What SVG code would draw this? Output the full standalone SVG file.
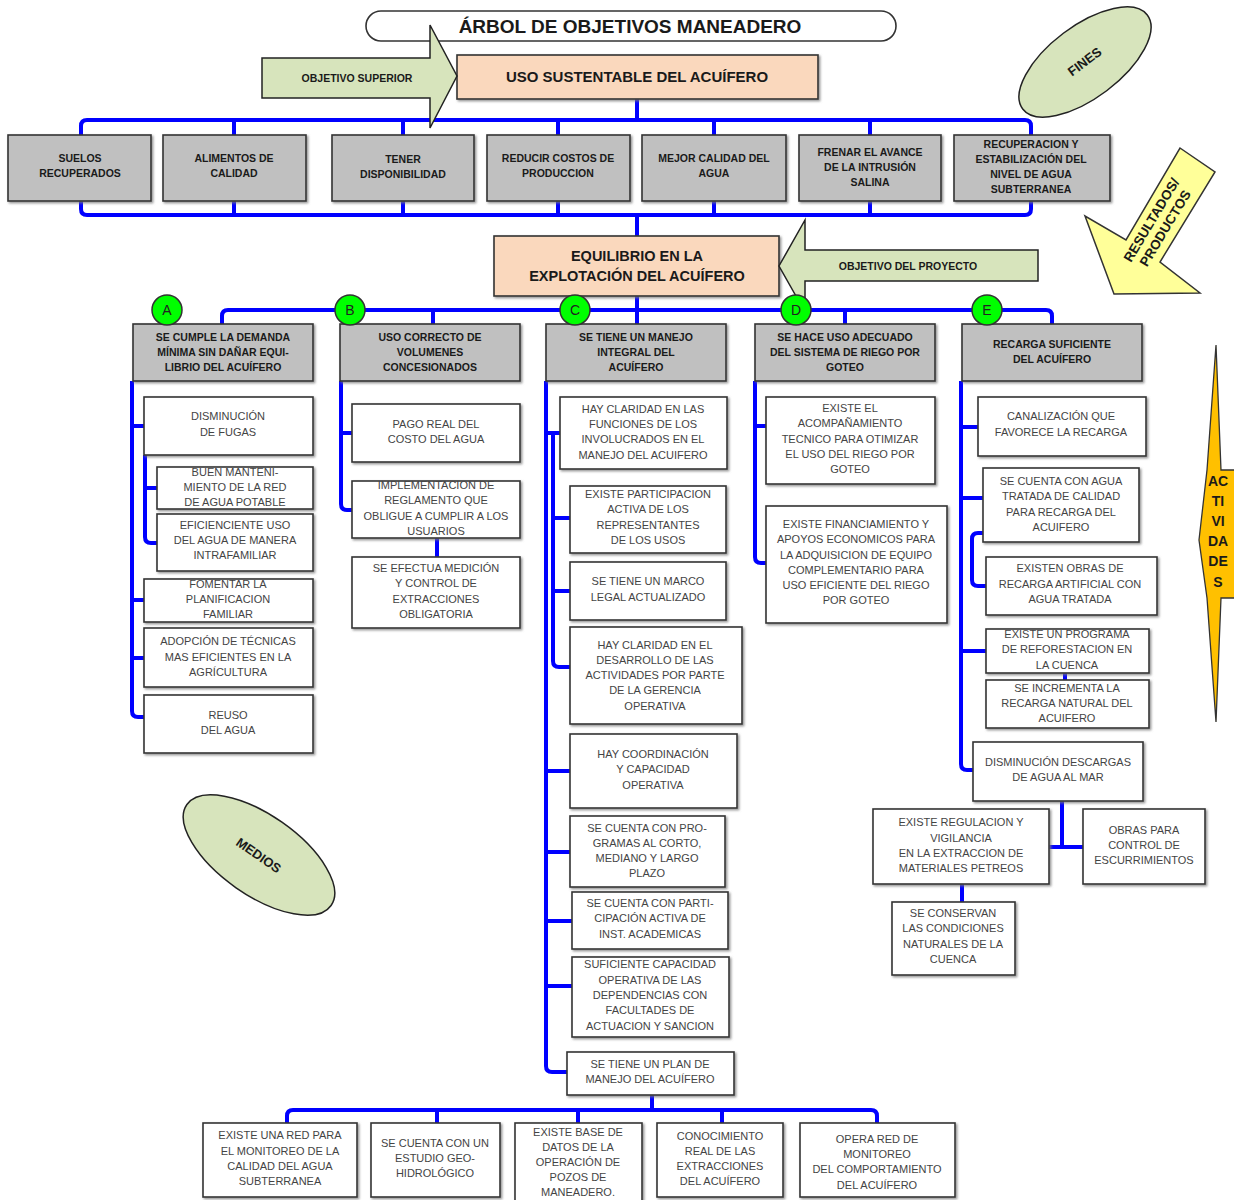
<svg xmlns="http://www.w3.org/2000/svg" width="1234" height="1200" viewBox="0 0 1234 1200">
<defs>
<filter id="sh" x="-5%" y="-5%" width="115%" height="120%"><feDropShadow dx="1.5" dy="1.5" stdDeviation="0.8" flood-color="#777" flood-opacity="0.8"/></filter>
<style>
.gb{fill:#c0c0c0;stroke:#333;stroke-width:1.6;filter:url(#sh)}
.wb{fill:#fff;stroke:#333;stroke-width:1.6;filter:url(#sh)}
.pb{fill:#fad8bd;stroke:#333;stroke-width:1.6;filter:url(#sh)}
.gt{font-family:"Liberation Sans",Arial,sans-serif;font-size:10.5px;font-weight:bold;fill:#1a1a1a;text-anchor:middle}
.wt{font-family:"Liberation Sans",Arial,sans-serif;font-size:11px;fill:#444;text-anchor:middle}
.bt{font-family:"Liberation Sans",Arial,sans-serif;font-weight:bold;fill:#1a1a1a;text-anchor:middle}
.cn{fill:none;stroke:#0000ff;stroke-width:4;stroke-linejoin:round}
.cir{fill:#00ff00;stroke:#333;stroke-width:1.5}
.ct{font-family:"Liberation Sans",Arial,sans-serif;font-size:14px;fill:#222;text-anchor:middle}
.grn{fill:#d7e4bc;stroke:#222;stroke-width:1.5}
</style>
</defs>
<rect width="1234" height="1200" fill="#fff"/>

<!-- connectors -->
<g id="connectors">
<path class="cn" d="M637,99 V120"/>
<path class="cn" d="M81,135 V126 Q81,120 87,120 H1025 Q1031,120 1031,126 V135"/>
<path class="cn" d="M234,120V135 M403,120V135 M558,120V135 M714,120V135 M870,120V135"/>
<path class="cn" d="M81,201 V209 Q81,215 87,215 H1025 Q1031,215 1031,209 V201"/>
<path class="cn" d="M234,201V215 M403,201V215 M558,201V215 M714,201V215 M870,201V215"/>
<path class="cn" d="M637,215 V236"/>
<path class="cn" d="M637,296 V324"/>
<path class="cn" d="M222,324 V316 Q222,310 228,310 H1046 Q1052,310 1052,316 V324"/>
<path class="cn" d="M433,310V324 M845,310V324"/>
<!-- A -->
<path class="cn" d="M132,381 V711 Q132,717 138,717 H144"/>
<path class="cn" d="M132,426H144 M132,600H144 M132,658H144"/>
<path class="cn" d="M145,455 V537 Q145,543 151,543 H157 M145,488 H157"/>
<!-- B -->
<path class="cn" d="M341,381 V504 Q341,510 347,510 H352 M341,433 H352"/>
<path class="cn" d="M437,538 V557"/>
<!-- C -->
<path class="cn" d="M546,381 V1066 Q546,1072 552,1072 H567"/>
<path class="cn" d="M546,433H560 M546,771H570 M546,852H570 M546,921H572 M546,986H572"/>
<path class="cn" d="M553,433 V661 Q553,667 559,667 H570 M553,518H570 M553,591H570"/>
<path class="cn" d="M652,1095 V1110"/>
<path class="cn" d="M287,1123 V1116 Q287,1110 293,1110 H871 Q877,1110 877,1116 V1123"/>
<path class="cn" d="M437,1110V1123 M578,1110V1123 M722,1110V1123"/>
<!-- D -->
<path class="cn" d="M755,381 V557 Q755,563 761,563 H766 M755,426 H766"/>
<!-- E -->
<path class="cn" d="M961,381 V764 Q961,770 967,770 H973"/>
<path class="cn" d="M961,427H978 M961,498H983 M961,651H986"/>
<path class="cn" d="M983,533 H978 Q972,533 972,539 V580 Q972,586 978,586 H986"/>
<path class="cn" d="M1065,673 V680"/>
<path class="cn" d="M1062,801 V847 M1049,847 H1083"/>
<path class="cn" d="M962,884 V902"/>
</g>

<!-- title -->
<g id="title">
<rect x="366" y="11" width="530" height="30" rx="15" fill="#fff" stroke="#333" stroke-width="1.6"/>
<text class="bt" x="630" y="33" font-size="19">ÁRBOL DE OBJETIVOS MANEADERO</text>
</g>

<!-- decorative labels -->
<g id="fines">
<ellipse class="grn" cx="1085" cy="62" rx="78" ry="36" transform="rotate(-37 1085 62)"/>
<text class="bt" x="1085" y="66" font-size="13" transform="rotate(-37 1085 62)">FINES</text>
</g>
<g id="medios">
<ellipse class="grn" cx="259" cy="855" rx="88" ry="40" transform="rotate(35 259 855)"/>
<text class="bt" x="259" y="860" font-size="13" transform="rotate(35 259 855)">MEDIOS</text>
</g>
<g id="resultados">
<polygon points="1180,148 1215,172 1160,262 1200,293 1114,294 1085,216 1126,240" fill="#ffff99" stroke="#333" stroke-width="1.5"/>
<text class="bt" font-size="13.5" transform="translate(1158,224) rotate(-59)"><tspan x="0" y="-3">RESULTADOS/</tspan><tspan x="0" y="13">PRODUCTOS</tspan></text>
</g>
<g id="actividades">
<polygon points="1216,345 1207,470 1199,540 1207,598 1216,722 1221,598 1236,598 1236,470 1221,470" fill="#ffc000" stroke="#333" stroke-width="1.3"/>
<text class="bt" font-size="14"><tspan x="1218" y="486">AC</tspan><tspan x="1218" y="506">TI</tspan><tspan x="1218" y="526">VI</tspan><tspan x="1218" y="546">DA</tspan><tspan x="1218" y="566">DE</tspan><tspan x="1218" y="587">S</tspan></text>
</g>

<!-- top objective -->
<g id="uso">
<rect class="pb" x="457" y="55" width="361" height="44"/>
<text class="bt" x="637" y="82" font-size="15">USO SUSTENTABLE  DEL ACUÍFERO</text>
</g>
<g id="obj-superior">
<polygon class="grn" points="262,58 430,58 430,25 457,76 430,128 430,98 262,98"/>
<text class="bt" x="357" y="82" font-size="10.5">OBJETIVO SUPERIOR</text>
</g>

<!-- fines boxes -->
<g id="f1"><rect class="gb" x="8" y="135" width="143" height="66"/><text class="gt"><tspan x="80" y="162">SUELOS</tspan><tspan x="80" y="177">RECUPERADOS</tspan></text></g>
<g id="f2"><rect class="gb" x="163" y="135" width="143" height="66"/><text class="gt"><tspan x="234" y="162">ALIMENTOS DE</tspan><tspan x="234" y="177">CALIDAD</tspan></text></g>
<g id="f3"><rect class="gb" x="332" y="135" width="142" height="66"/><text class="gt"><tspan x="403" y="163">TENER</tspan><tspan x="403" y="178">DISPONIBILIDAD</tspan></text></g>
<g id="f4"><rect class="gb" x="487" y="135" width="143" height="66"/><text class="gt"><tspan x="558" y="162">REDUCIR COSTOS DE</tspan><tspan x="558" y="177">PRODUCCION</tspan></text></g>
<g id="f5"><rect class="gb" x="642" y="135" width="144" height="66"/><text class="gt"><tspan x="714" y="162">MEJOR CALIDAD DEL</tspan><tspan x="714" y="177">AGUA</tspan></text></g>
<g id="f6"><rect class="gb" x="799" y="135" width="142" height="66"/><text class="gt"><tspan x="870" y="156">FRENAR EL AVANCE</tspan><tspan x="870" y="171">DE LA INTRUSIÓN</tspan><tspan x="870" y="186">SALINA</tspan></text></g>
<g id="f7"><rect class="gb" x="954" y="135" width="156" height="66"/><text class="gt"><tspan x="1031" y="148">RECUPERACION  Y</tspan><tspan x="1031" y="163">ESTABILIZACIÓN DEL</tspan><tspan x="1031" y="178">NIVEL DE AGUA</tspan><tspan x="1031" y="193">SUBTERRANEA</tspan></text></g>

<!-- project objective -->
<g id="equilibrio">
<rect class="pb" x="494" y="236" width="285" height="60"/>
<text class="bt" font-size="14.5"><tspan x="637" y="261">EQUILIBRIO EN LA</tspan><tspan x="637" y="281">EXPLOTACIÓN DEL ACUÍFERO</tspan></text>
</g>

<!-- component boxes -->
<g id="ca"><rect class="gb" x="133" y="324" width="180" height="57"/><text class="gt"><tspan x="223" y="341">SE CUMPLE LA DEMANDA</tspan><tspan x="223" y="356">MÍNIMA SIN DAÑAR EQUI-</tspan><tspan x="223" y="371">LIBRIO DEL ACUÍFERO</tspan></text></g>
<g id="cb"><rect class="gb" x="340" y="324" width="180" height="57"/><text class="gt"><tspan x="430" y="341">USO CORRECTO DE</tspan><tspan x="430" y="356">VOLUMENES</tspan><tspan x="430" y="371">CONCESIONADOS</tspan></text></g>
<g id="cc"><rect class="gb" x="546" y="324" width="180" height="57"/><text class="gt"><tspan x="636" y="341">SE TIENE UN MANEJO</tspan><tspan x="636" y="356">INTEGRAL DEL</tspan><tspan x="636" y="371">ACUÍFERO</tspan></text></g>
<g id="cd"><rect class="gb" x="755" y="324" width="180" height="57"/><text class="gt"><tspan x="845" y="341">SE HACE USO ADECUADO</tspan><tspan x="845" y="356">DEL SISTEMA DE RIEGO POR</tspan><tspan x="845" y="371">GOTEO</tspan></text></g>
<g id="ce"><rect class="gb" x="962" y="324" width="180" height="57"/><text class="gt"><tspan x="1052" y="348">RECARGA SUFICIENTE</tspan><tspan x="1052" y="363">DEL ACUÍFERO</tspan></text></g>

<g id="obj-proyecto">
<polygon class="grn" points="1038,250 805,250 805,220 779,266 805,312 805,281 1038,281"/>
<text class="bt" x="908" y="270" font-size="10.5">OBJETIVO DEL PROYECTO</text>
</g>

<g id="circles">
<circle class="cir" cx="167" cy="310" r="15"/><text class="ct" x="167" y="315">A</text>
<circle class="cir" cx="350" cy="310" r="15"/><text class="ct" x="350" y="315">B</text>
<circle class="cir" cx="575" cy="310" r="15"/><text class="ct" x="575" y="315">C</text>
<circle class="cir" cx="796" cy="310" r="15"/><text class="ct" x="796" y="315">D</text>
<circle class="cir" cx="987" cy="310" r="15"/><text class="ct" x="987" y="315">E</text>
</g>

<!-- column A -->
<g id="a1"><rect class="wb" x="144" y="397" width="169" height="58"/><text class="wt"><tspan x="228" y="420">DISMINUCIÓN</tspan><tspan x="228" y="436">DE  FUGAS</tspan></text></g>
<g id="a2"><rect class="wb" x="157" y="467" width="156" height="42"/><text class="wt"><tspan x="235" y="476">BUEN MANTENI-</tspan><tspan x="235" y="491">MIENTO DE LA RED</tspan><tspan x="235" y="506">DE AGUA POTABLE</tspan></text></g>
<g id="a3"><rect class="wb" x="157" y="514" width="156" height="57"/><text class="wt"><tspan x="235" y="529">EFICIENCIENTE USO</tspan><tspan x="235" y="544">DEL AGUA DE MANERA</tspan><tspan x="235" y="559">INTRAFAMILIAR</tspan></text></g>
<g id="a4"><rect class="wb" x="144" y="579" width="169" height="43"/><text class="wt"><tspan x="228" y="588">FOMENTAR LA</tspan><tspan x="228" y="603">PLANIFICACION</tspan><tspan x="228" y="618">FAMILIAR</tspan></text></g>
<g id="a5"><rect class="wb" x="144" y="628" width="169" height="59"/><text class="wt"><tspan x="228" y="645">ADOPCIÓN DE TÉCNICAS</tspan><tspan x="228" y="661">MAS EFICIENTES EN LA</tspan><tspan x="228" y="676">AGRÍCULTURA</tspan></text></g>
<g id="a6"><rect class="wb" x="144" y="695" width="169" height="58"/><text class="wt"><tspan x="228" y="719">REUSO</tspan><tspan x="228" y="734">DEL AGUA</tspan></text></g>

<!-- column B -->
<g id="b1"><rect class="wb" x="352" y="404" width="168" height="58"/><text class="wt"><tspan x="436" y="428">PAGO REAL  DEL</tspan><tspan x="436" y="443">COSTO DEL AGUA</tspan></text></g>
<g id="b2"><rect class="wb" x="352" y="481" width="168" height="57"/><text class="wt"><tspan x="436" y="489">IMPLEMENTACION DE</tspan><tspan x="436" y="504">REGLAMENTO QUE</tspan><tspan x="436" y="520">OBLIGUE A CUMPLIR A LOS</tspan><tspan x="436" y="535">USUARIOS</tspan></text></g>
<g id="b3"><rect class="wb" x="352" y="557" width="168" height="71"/><text class="wt"><tspan x="436" y="572">SE EFECTUA MEDICIÓN</tspan><tspan x="436" y="587">Y CONTROL DE</tspan><tspan x="436" y="603">EXTRACCIONES</tspan><tspan x="436" y="618">OBLIGATORIA</tspan></text></g>

<!-- column C -->
<g id="c1"><rect class="wb" x="560" y="397" width="167" height="72"/><text class="wt"><tspan x="643" y="413">HAY CLARIDAD EN LAS</tspan><tspan x="643" y="428">FUNCIONES DE LOS</tspan><tspan x="643" y="443">INVOLUCRADOS EN EL</tspan><tspan x="643" y="459">MANEJO DEL ACUIFERO</tspan></text></g>
<g id="c2"><rect class="wb" x="570" y="486" width="156" height="67"/><text class="wt"><tspan x="648" y="498">EXISTE PARTICIPACION</tspan><tspan x="648" y="513">ACTIVA DE LOS</tspan><tspan x="648" y="529">REPRESENTANTES</tspan><tspan x="648" y="544">DE LOS USOS</tspan></text></g>
<g id="c3"><rect class="wb" x="570" y="562" width="156" height="58"/><text class="wt"><tspan x="648" y="585">SE TIENE UN MARCO</tspan><tspan x="648" y="601">LEGAL ACTUALIZADO</tspan></text></g>
<g id="c4"><rect class="wb" x="570" y="627" width="172" height="97"/><text class="wt"><tspan x="655" y="649">HAY CLARIDAD EN EL</tspan><tspan x="655" y="664">DESARROLLO DE LAS</tspan><tspan x="655" y="679">ACTIVIDADES POR PARTE</tspan><tspan x="655" y="694">DE LA GERENCIA</tspan><tspan x="655" y="710">OPERATIVA</tspan></text></g>
<g id="c5"><rect class="wb" x="570" y="734" width="167" height="74"/><text class="wt"><tspan x="653" y="758">HAY COORDINACIÓN</tspan><tspan x="653" y="773">Y CAPACIDAD</tspan><tspan x="653" y="789">OPERATIVA</tspan></text></g>
<g id="c6"><rect class="wb" x="570" y="816" width="155" height="71"/><text class="wt"><tspan x="647" y="832">SE CUENTA CON PRO-</tspan><tspan x="647" y="847">GRAMAS AL CORTO,</tspan><tspan x="647" y="862">MEDIANO Y LARGO</tspan><tspan x="647" y="877">PLAZO</tspan></text></g>
<g id="c7"><rect class="wb" x="572" y="892" width="156" height="57"/><text class="wt"><tspan x="650" y="907">SE CUENTA CON PARTI-</tspan><tspan x="650" y="922">CIPACIÓN ACTIVA DE</tspan><tspan x="650" y="938">INST. ACADEMICAS</tspan></text></g>
<g id="c8"><rect class="wb" x="572" y="957" width="157" height="80"/><text class="wt"><tspan x="650" y="968">SUFICIENTE CAPACIDAD</tspan><tspan x="650" y="984">OPERATIVA DE LAS</tspan><tspan x="650" y="999">DEPENDENCIAS CON</tspan><tspan x="650" y="1014">FACULTADES DE</tspan><tspan x="650" y="1030">ACTUACION Y SANCION</tspan></text></g>
<g id="c9"><rect class="wb" x="567" y="1052" width="167" height="43"/><text class="wt"><tspan x="650" y="1068">SE TIENE UN PLAN DE</tspan><tspan x="650" y="1083">MANEJO DEL ACUÍFERO</tspan></text></g>

<!-- bottom row -->
<g id="p1"><rect class="wb" x="203" y="1123" width="154" height="74"/><text class="wt"><tspan x="280" y="1139">EXISTE UNA RED PARA</tspan><tspan x="280" y="1155">EL MONITOREO DE LA</tspan><tspan x="280" y="1170">CALIDAD DEL AGUA</tspan><tspan x="280" y="1185">SUBTERRANEA</tspan></text></g>
<g id="p2"><rect class="wb" x="371" y="1123" width="129" height="74"/><text class="wt"><tspan x="435" y="1147">SE CUENTA CON UN</tspan><tspan x="435" y="1162">ESTUDIO GEO-</tspan><tspan x="435" y="1177">HIDROLÓGICO</tspan></text></g>
<g id="p3"><rect class="wb" x="515" y="1123" width="127" height="82"/><text class="wt"><tspan x="578" y="1136">EXISTE BASE DE</tspan><tspan x="578" y="1151">DATOS DE LA</tspan><tspan x="578" y="1166">OPERACIÓN DE</tspan><tspan x="578" y="1181">POZOS DE</tspan><tspan x="578" y="1196">MANEADERO.</tspan></text></g>
<g id="p4"><rect class="wb" x="657" y="1123" width="126" height="74"/><text class="wt"><tspan x="720" y="1140">CONOCIMIENTO</tspan><tspan x="720" y="1155">REAL DE LAS</tspan><tspan x="720" y="1170">EXTRACCIONES</tspan><tspan x="720" y="1185">DEL ACUÍFERO</tspan></text></g>
<g id="p5"><rect class="wb" x="800" y="1123" width="155" height="74"/><text class="wt"><tspan x="877" y="1143">OPERA RED DE</tspan><tspan x="877" y="1158">MONITOREO</tspan><tspan x="877" y="1173">DEL COMPORTAMIENTO</tspan><tspan x="877" y="1189">DEL ACUÍFERO</tspan></text></g>

<!-- column D -->
<g id="d1"><rect class="wb" x="766" y="397" width="169" height="87"/><text class="wt"><tspan x="850" y="412">EXISTE EL</tspan><tspan x="850" y="427">ACOMPAÑAMIENTO</tspan><tspan x="850" y="443">TECNICO PARA OTIMIZAR</tspan><tspan x="850" y="458">EL USO DEL RIEGO POR</tspan><tspan x="850" y="473">GOTEO</tspan></text></g>
<g id="d2"><rect class="wb" x="766" y="506" width="181" height="117"/><text class="wt"><tspan x="856" y="528">EXISTE FINANCIAMIENTO Y</tspan><tspan x="856" y="543">APOYOS ECONOMICOS PARA</tspan><tspan x="856" y="559">LA ADQUISICION DE EQUIPO</tspan><tspan x="856" y="574">COMPLEMENTARIO PARA</tspan><tspan x="856" y="589">USO EFICIENTE DEL RIEGO</tspan><tspan x="856" y="604">POR GOTEO</tspan></text></g>

<!-- column E -->
<g id="e1"><rect class="wb" x="978" y="397" width="168" height="59"/><text class="wt"><tspan x="1061" y="420">CANALIZACIÓN QUE</tspan><tspan x="1061" y="436">FAVORECE LA RECARGA</tspan></text></g>
<g id="e2"><rect class="wb" x="983" y="468" width="156" height="74"/><text class="wt"><tspan x="1061" y="485">SE CUENTA CON AGUA</tspan><tspan x="1061" y="500">TRATADA DE CALIDAD</tspan><tspan x="1061" y="516">PARA RECARGA DEL</tspan><tspan x="1061" y="531">ACUIFERO</tspan></text></g>
<g id="e3"><rect class="wb" x="986" y="557" width="171" height="58"/><text class="wt"><tspan x="1070" y="572">EXISTEN OBRAS DE</tspan><tspan x="1070" y="588">RECARGA ARTIFICIAL CON</tspan><tspan x="1070" y="603">AGUA TRATADA</tspan></text></g>
<g id="e4"><rect class="wb" x="986" y="629" width="163" height="44"/><text class="wt"><tspan x="1067" y="638">EXISTE UN PROGRAMA</tspan><tspan x="1067" y="653">DE REFORESTACION EN</tspan><tspan x="1067" y="669">LA CUENCA</tspan></text></g>
<g id="e5"><rect class="wb" x="986" y="680" width="163" height="48"/><text class="wt"><tspan x="1067" y="692">SE INCREMENTA LA</tspan><tspan x="1067" y="707">RECARGA NATURAL DEL</tspan><tspan x="1067" y="722">ACUIFERO</tspan></text></g>
<g id="e6"><rect class="wb" x="973" y="742" width="170" height="59"/><text class="wt"><tspan x="1058" y="766">DISMINUCIÓN DESCARGAS</tspan><tspan x="1058" y="781">DE AGUA AL MAR</tspan></text></g>
<g id="e7"><rect class="wb" x="873" y="809" width="176" height="75"/><text class="wt"><tspan x="961" y="826">EXISTE REGULACION Y</tspan><tspan x="961" y="842">VIGILANCIA</tspan><tspan x="961" y="857">EN LA EXTRACCION DE</tspan><tspan x="961" y="872">MATERIALES PETREOS</tspan></text></g>
<g id="e8"><rect class="wb" x="1083" y="809" width="122" height="75"/><text class="wt"><tspan x="1144" y="834">OBRAS PARA</tspan><tspan x="1144" y="849">CONTROL DE</tspan><tspan x="1144" y="864">ESCURRIMIENTOS</tspan></text></g>
<g id="e9"><rect class="wb" x="892" y="902" width="123" height="73"/><text class="wt"><tspan x="953" y="917">SE CONSERVAN</tspan><tspan x="953" y="932">LAS CONDICIONES</tspan><tspan x="953" y="948">NATURALES DE LA</tspan><tspan x="953" y="963">CUENCA</tspan></text></g>
</svg>
